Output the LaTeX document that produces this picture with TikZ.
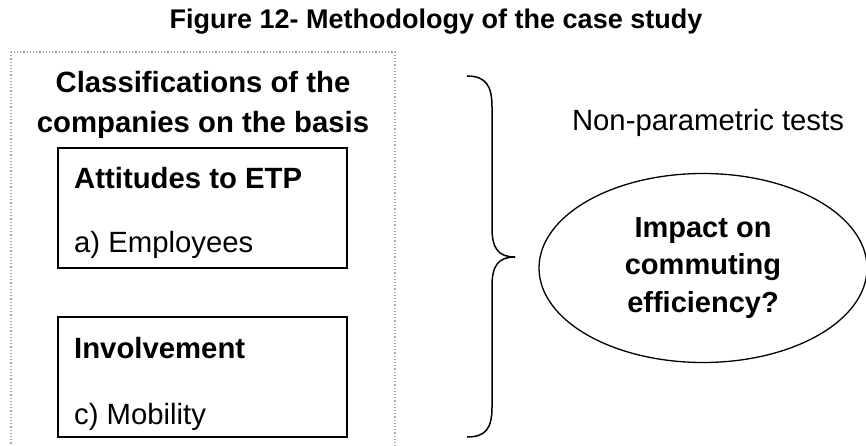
\documentclass[tikz,border=0pt]{standalone}
\usepackage{fontspec}
\setmainfont{Liberation Sans}
\usetikzlibrary{shapes.geometric}
\begin{document}
\begin{tikzpicture}[
  x=1pt, y=-1pt,
  frame/.style={draw=gray!70, dotted, line width=1.2pt},
  group/.style={rectangle, draw=black, line width=1.5pt, minimum width=289pt, minimum height=120pt, inner sep=0pt},
  head/.style={font=\fontsize{29.3}{36}\selectfont\bfseries, anchor=base west, inner sep=0pt},
  item/.style={font=\fontsize{29.3}{36}\selectfont, anchor=base west, inner sep=0pt},
  goal/.style={ellipse, draw=black, line width=1.3pt, minimum width=328pt, minimum height=189pt,
               align=center, font=\fontsize{29}{37.5}\selectfont\bfseries, inner sep=0pt},
  brace/.style={draw=black, line width=1.5pt}
]
\useasboundingbox (0,0) rectangle (866,446);
\clip (0,0) rectangle (866,446);

% Title
\node[font=\fontsize{27}{32}\selectfont\bfseries] (title) at (436,22) {Figure 12- Methodology of the case study};

% Dotted frame round the classifications
\draw[frame] (11,52) rectangle (395,470);
\node[font=\fontsize{29.3}{40}\selectfont\bfseries, align=center] (cls) at (203,105)
  {Classifications of the\\companies on the basis};

% Attitudes box
\node[group] (att) at (202.5,208) {};
\node[head] (attH) at (74,189) {Attitudes to ETP};
\node[item] (attI) at (74,252) {a) Employees};

% Involvement box
\node[group] (inv) at (202.5,377) {};
\node[head] (invH) at (74,358) {Involvement};
\node[item] (invI) at (74,424) {c) Mobility};

% Brace
\coordinate (tip) at (515,257);
\draw[brace] (467,76) .. controls (486,76) and (492,86) .. (492,107) -- (492,228)
  .. controls (492,248) and (498,257) .. (tip)
  .. controls (498,257) and (492,266) .. (492,286) -- (492,407)
  .. controls (492,428) and (486,437) .. (467,437);

% Tests and question
\node[font=\fontsize{29.3}{36}\selectfont, anchor=base] (tests) at (708,131) {Non-parametric tests};
\node[goal] (impact) at (703,268) {Impact on\\commuting\\efficiency?};
\end{tikzpicture}
\end{document}
